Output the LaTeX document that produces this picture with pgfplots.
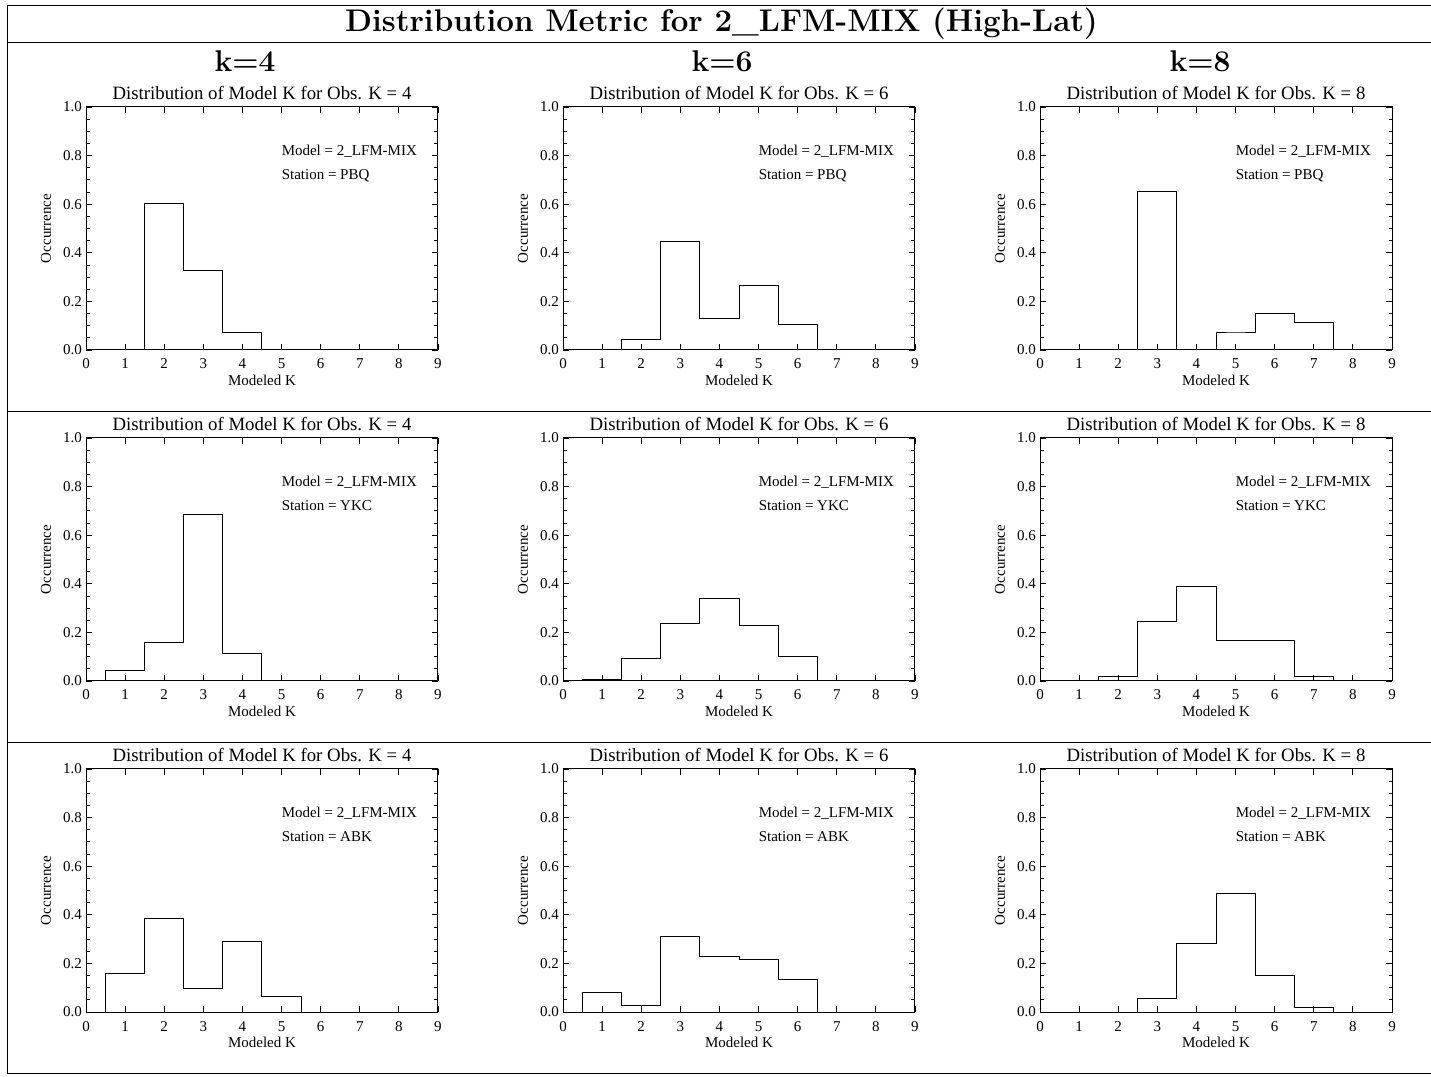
\documentclass[border=0pt]{standalone}
\usepackage{fontspec}
\setmainfont{Liberation Serif}
\usepackage{pgfplots}
\pgfplotsset{compat=1.18}
\newcommand{\lmbold}{\fontfamily{lmr}\fontseries{bx}\selectfont}
\pgfplotsset{
  hist/.style={
    scale only axis, width=352bp, height=243bp,
    anchor=south west,
    xmin=0, xmax=9, ymin=0, ymax=1,
    xtick={0,1,2,3,4,5,6,7,8,9},
    ytick={0,0.2,0.4,0.6,0.8,1.0},
    yticklabels={0.0,0.2,0.4,0.6,0.8,1.0},
    minor y tick num=3,
    tick align=inside,
    major tick length=6bp, minor tick length=3.5bp,
    axis line style={line width=1bp},
    every tick/.style={black, line width=0.8bp},
    /pgf/number format/assume math mode=true,
    tick label style={font=\fontsize{15bp}{17bp}\selectfont},
    xticklabel style={anchor=base, yshift=-19bp, inner sep=0pt},
    yticklabel style={anchor=east, inner sep=0pt, xshift=-4bp},
    xlabel={Modeled K},
    ylabel={Occurrence},
    label style={font=\fontsize{15bp}{17bp}\selectfont},
    xlabel style={at={(axis description cs:0.5,-0.145)}, anchor=base, inner sep=0pt},
    ylabel style={at={(axis description cs:-0.1136,0.5)}, anchor=center, inner sep=0pt},
    title style={at={(axis description cs:0.5,1)}, anchor=base, yshift=2bp, inner sep=0pt, font=\fontsize{18.8bp}{20bp}\selectfont},
    clip=false,
  }
}
\newcommand{\panel}[5]{%
  \begin{axis}[hist, at={(#1bp,#2bp)}, title={Distribution of Model K for Obs. K = #3}]
    \addplot[const plot mark mid, black, line width=1bp, mark=none] coordinates {#5};
    \node[anchor=base west, inner sep=0pt, font=\fontsize{15bp}{17bp}\selectfont] at (axis cs:5,0.8) {Model = 2\_LFM-MIX};
    \node[anchor=base west, inner sep=0pt, font=\fontsize{15bp}{17bp}\selectfont] at (axis cs:5,0.7) {Station = #4};
  \end{axis}}
\begin{document}
\begin{tikzpicture}
\useasboundingbox (0bp,0bp) rectangle (1431bp,1077bp);
% frame lines
\draw[line width=1bp] (7bp,1071bp) -- (1431bp,1071bp);
\draw[line width=1bp] (7bp,1034bp) -- (1431bp,1034bp);
\draw[line width=1bp] (7bp,665bp) -- (1431bp,665bp);
\draw[line width=1bp] (7bp,334bp) -- (1431bp,334bp);
\draw[line width=1bp] (7bp,3bp) -- (1431bp,3bp);
\draw[line width=1bp] (7bp,3bp) -- (7bp,1071bp);
% titles
\node[anchor=base, inner sep=0pt, font=\lmbold\fontsize{31.3bp}{33bp}\selectfont] at (721.5bp,1045bp) {Distribution Metric for 2\_LFM-MIX (High-Lat)};
\node[anchor=base, inner sep=0pt, font=\lmbold\fontsize{30bp}{32bp}\selectfont] at (245bp,1005bp) {k=4};
\node[anchor=base, inner sep=0pt, font=\lmbold\fontsize{30bp}{32bp}\selectfont] at (722bp,1005bp) {k=6};
\node[anchor=base, inner sep=0pt, font=\lmbold\fontsize{30bp}{32bp}\selectfont] at (1200bp,1005bp) {k=8};
% row 1: PBQ
\panel{86}{727}{4}{PBQ}{(0,0) (1,0) (2,0.602) (3,0.327) (4,0.073) (5,0) (6,0) (7,0) (8,0) (9,0)}
\panel{563}{727}{6}{PBQ}{(0,0) (1,0) (2,0.045) (3,0.446) (4,0.130) (5,0.264) (6,0.103) (7,0) (8,0) (9,0)}
\panel{1040}{727}{8}{PBQ}{(0,0) (1,0) (2,0) (3,0.652) (4,0) (5,0.074) (6,0.152) (7,0.113) (8,0) (9,0)}
% row 2: YKC
\panel{86}{396}{4}{YKC}{(0,0) (1,0.043) (2,0.158) (3,0.687) (4,0.113) (5,0) (6,0) (7,0) (8,0) (9,0)}
\panel{563}{396}{6}{YKC}{(0,0) (1,0.007) (2,0.093) (3,0.235) (4,0.341) (5,0.227) (6,0.099) (7,0) (8,0) (9,0)}
\panel{1040}{396}{8}{YKC}{(0,0) (1,0) (2,0.019) (3,0.246) (4,0.389) (5,0.165) (6,0.165) (7,0.019) (8,0) (9,0)}
% row 3: ABK
\panel{86}{65}{4}{ABK}{(0,0) (1,0.159) (2,0.386) (3,0.096) (4,0.290) (5,0.063) (6,0) (7,0) (8,0) (9,0)}
\panel{563}{65}{6}{ABK}{(0,0) (1,0.080) (2,0.026) (3,0.309) (4,0.228) (5,0.216) (6,0.135) (7,0) (8,0) (9,0)}
\panel{1040}{65}{8}{ABK}{(0,0) (1,0) (2,0) (3,0.056) (4,0.283) (5,0.489) (6,0.150) (7,0.018) (8,0) (9,0)}
\end{tikzpicture}
\end{document}
